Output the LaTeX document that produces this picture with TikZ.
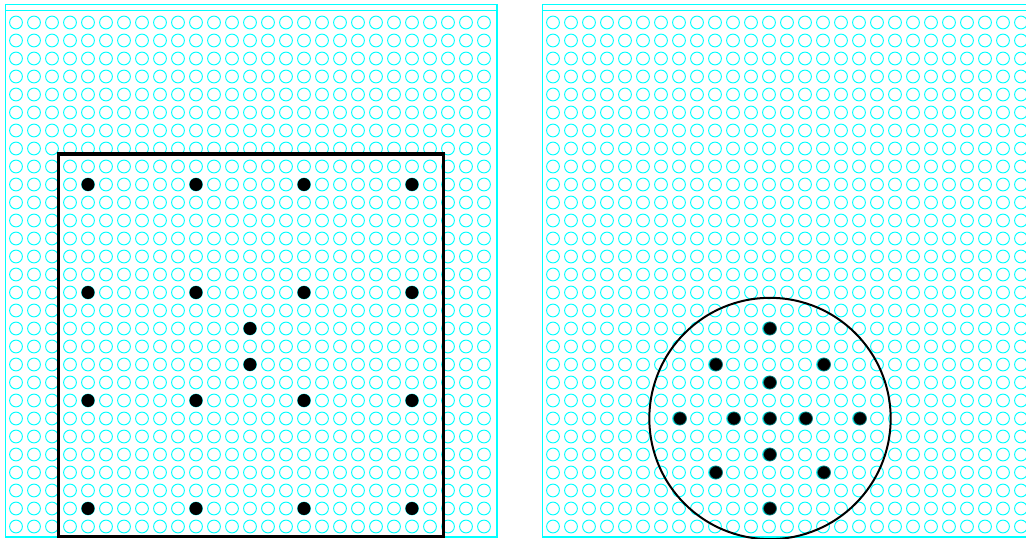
\documentclass[tikz,border=0pt]{standalone}
\usepackage{tikz}
\definecolor{holecyan}{RGB}{0,255,255}
\begin{document}
\begin{tikzpicture}[x=0.75pt,y=-0.75pt,
  hole/.style={holecyan,line width=0.7pt},
  pin/.style={fill=black}]
\useasboundingbox (0,0) rectangle (1026,539);
\clip (0,0) rectangle (1026,539);
% two boards of holes
\foreach \px in {5,542}{
  \draw[holecyan,line width=1pt] (\px+0.5,4.7) rectangle (\px+492,537);
  \draw[holecyan,line width=1pt] (\px+0.5,10.3) -- (\px+492,10.3);
  \foreach \i in {0,...,26}
    \foreach \j in {0,...,28}
      \draw[hole] (\px+11+18*\i,22.5+18*\j) circle[radius=4.8pt];
}
% left board: square layout
\foreach \c in {4,10,16,22}
  \foreach \r in {9,15,21,27}
    \fill[pin] (16+18*\c,22.5+18*\r) circle[radius=4.9pt];
\fill[pin] (250,328.5) circle[radius=4.9pt];
\fill[pin] (250,364.5) circle[radius=4.9pt];
\draw[line width=2.3pt] (58.5,154) rectangle (443.5,536.5);
% right board: round layout
\foreach \dx/\dy in {0/-5,-3/-3,3/-3,0/-2,-5/0,-2/0,0/0,2/0,5/0,0/2,-3/3,3/3,0/5}
  \filldraw[pin,draw=holecyan!50!black,line width=0.5pt] (770+18*\dx,418.5+18*\dy) circle[radius=4.9pt];
\draw[line width=1.5pt] (770,418.5) circle[radius=90.5pt];
\end{tikzpicture}
\end{document}
